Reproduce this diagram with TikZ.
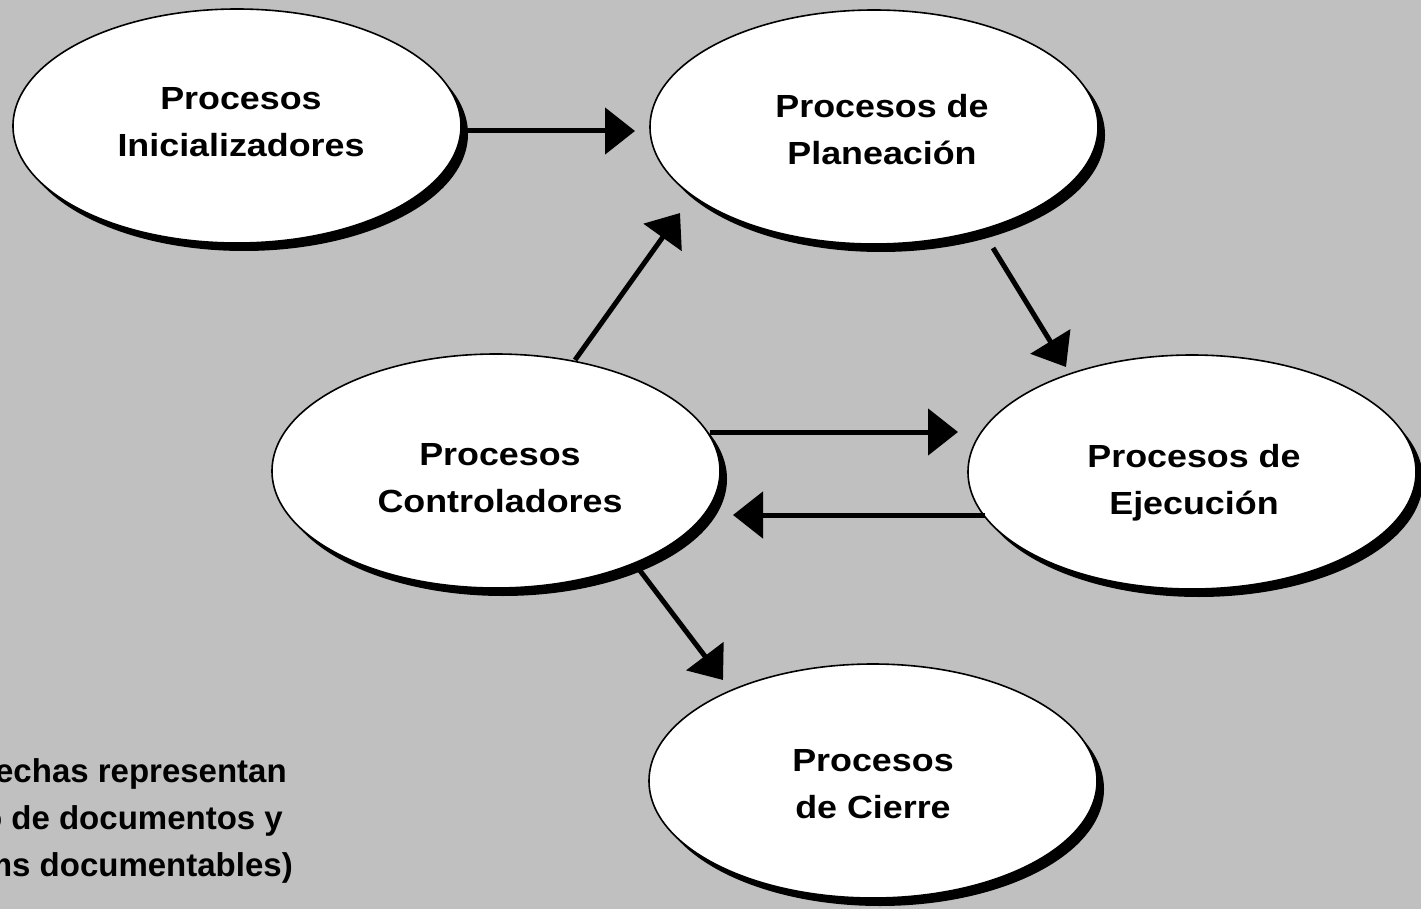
\documentclass[tikz,border=0pt]{standalone}
\usepackage{fontspec}
\newfontfamily\ellfont[FakeStretch=1.12]{Liberation Sans}
\newfontfamily\notefont{Liberation Sans}
\usetikzlibrary{shapes.geometric,shadows,arrows.meta}
\definecolor{bg}{HTML}{C0C0C0}
\begin{document}
\begin{tikzpicture}[x=1pt,y=-1pt,
  proc/.style={ellipse, draw=black, line width=1.6pt, fill=white,
    minimum width=448pt, minimum height=234pt, inner sep=0pt,
    general shadow={fill=black, shadow xshift=7pt, shadow yshift=-8pt}},
  lbl/.style={font=\ellfont\bfseries\fontsize{32}{47}\selectfont, align=center, inner sep=0pt},
  note/.style={font=\notefont\bfseries\fontsize{33}{47}\selectfont, inner sep=0pt},
  arr/.style={line width=5pt, -{Triangle[length=30pt,width=46pt]}}]
\useasboundingbox (0,0) rectangle (1421,909);
\clip (0,0) rectangle (1421,909);
\fill[bg] (0,0) rectangle (1421,909);

\node[proc] (ini)  at (237,126) {};
\node[proc] (plan) at (874,127) {};
\node[proc] (ctrl) at (496,471) {};
\node[proc] (ejec) at (1192,472) {};
\node[proc] (cier) at (873,781) {};

\node[lbl, anchor=base] (ini-t)  at (241,157) {Procesos\\Inicializadores};
\node[lbl, anchor=base] (plan-t) at (882,165) {Procesos de\\Planeación};
\node[lbl, anchor=base] (ctrl-t) at (500,512) {Procesos\\Controladores};
\node[lbl, anchor=base] (ejec-t) at (1194,514) {Procesos de\\Ejecución};
\node[lbl, anchor=base] (cier-t) at (873,818) {Procesos\\de Cierre};

\draw[arr] ([shift={(229,5)}]ini.center) -- ([shift={(-239,4)}]plan.center);
\draw[arr] ([shift={(79,-111)}]ctrl.center) -- ([shift={(-194,86)}]plan.center);
\draw[arr] ([shift={(119,121)}]plan.center) -- ([shift={(-126,-105)}]ejec.center);
\draw[arr] ([shift={(214,-39)}]ctrl.center) -- ([shift={(-234,-40)}]ejec.center);
\draw[arr] ([shift={(-207,43)}]ejec.center) -- ([shift={(237,44)}]ctrl.center);
\draw[arr] ([shift={(142,97)}]ctrl.center) -- ([shift={(-150,-101)}]cier.center);

\node[note, anchor=base east] (n1) at (287,782) {echas representan};
\node[note, anchor=base east] (n2) at (283,829) {o de documentos y};
\node[note, anchor=base east] (n3) at (293,876) {ms documentables)};
\end{tikzpicture}
\end{document}
